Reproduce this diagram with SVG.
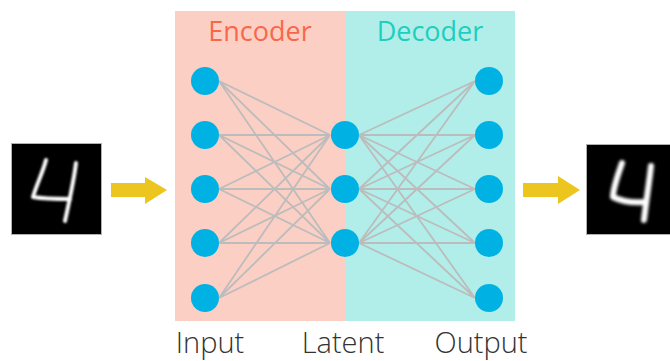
<svg xmlns="http://www.w3.org/2000/svg" width="670" height="361" viewBox="0 0 670 361">
  <defs>
    <style>
      .edge { stroke: #bcbcbc; stroke-width: 1.8; fill: none; }
      .neuron { fill: #00b1e4; }
      .title { font-family: "Open Sans", "Noto Sans", sans-serif; font-size: 27px; text-anchor: middle; }
      .layer { font-family: "Open Sans", "Noto Sans", sans-serif; font-size: 29px; font-weight: 300; fill: #333; text-anchor: middle; }
      .digit { stroke: #fff; fill: none; stroke-linecap: round; stroke-linejoin: round; }
      .frame { fill: #000; stroke: #b0b0b0; stroke-width: 1; }
      .flow { fill: #ecc51e; }
    </style>
    <filter id="soft" x="-20%" y="-20%" width="140%" height="140%">
      <feGaussianBlur stdDeviation="0.9"/>
    </filter>
    <filter id="softer" x="-20%" y="-20%" width="140%" height="140%">
      <feGaussianBlur stdDeviation="1.8"/>
    </filter>
  </defs>

  <rect width="670" height="361" fill="#fff"/>

  <!-- background panels -->
  <g id="encoder-panel">
    <rect x="175" y="11" width="170" height="310" fill="#fccfc5"/>
    <text class="title" x="260" y="41" fill="#f9674b">Encoder</text>
  </g>
  <g id="decoder-panel">
    <rect x="345" y="11" width="170" height="310" fill="#b1eee9"/>
    <text class="title" x="430" y="41" fill="#1dcfbe">Decoder</text>
  </g>

  <!-- connections -->
  <g id="connectors">
    <!-- input -> latent -->
    <path class="edge" d="M219 81L330 135M219 81L330 189M219 81L330 243
      M219 135L330 135M219 135L330 189M219 135L330 243
      M219 189L330 135M219 189L330 189M219 189L330 243
      M219 243L330 135M219 243L330 189M219 243L330 243
      M219 298L330 135M219 298L330 189M219 298L330 243"/>
    <!-- latent -> output -->
    <path class="edge" d="M359 135L475 81M359 135L475 135M359 135L475 189M359 135L475 243M359 135L475 298
      M359 189L475 81M359 189L475 135M359 189L475 189M359 189L475 243M359 189L475 298
      M359 243L475 81M359 243L475 135M359 243L475 189M359 243L475 243M359 243L475 298"/>
  </g>

  <!-- input layer -->
  <g id="input-layer">
    <circle class="neuron" cx="205" cy="81" r="14"/>
    <circle class="neuron" cx="205" cy="135" r="14"/>
    <circle class="neuron" cx="205" cy="189" r="14"/>
    <circle class="neuron" cx="205" cy="243" r="14"/>
    <circle class="neuron" cx="205" cy="298" r="14"/>
  </g>

  <!-- latent layer -->
  <g id="latent-layer">
    <circle class="neuron" cx="345" cy="135" r="14"/>
    <circle class="neuron" cx="345" cy="189" r="14"/>
    <circle class="neuron" cx="345" cy="243" r="14"/>
  </g>

  <!-- output layer -->
  <g id="output-layer">
    <circle class="neuron" cx="489" cy="81" r="14"/>
    <circle class="neuron" cx="489" cy="135" r="14"/>
    <circle class="neuron" cx="489" cy="189" r="14"/>
    <circle class="neuron" cx="489" cy="243" r="14"/>
    <circle class="neuron" cx="489" cy="298" r="14"/>
  </g>

  <!-- layer labels -->
  <g id="labels">
    <text class="layer" x="210" y="353">Input</text>
    <text class="layer" x="343" y="353">Latent</text>
    <text class="layer" x="481" y="353">Output</text>
  </g>

  <!-- input sample -->
  <g id="input-image">
    <rect class="frame" x="11.5" y="143.5" width="90" height="91"/>
    <g filter="url(#soft)">
      <path class="digit" stroke-width="4" d="M46 160C43 172 36 186 33 197C45 199 58 199 70 199"/>
      <path class="digit" stroke-width="4" d="M76 163C74 180 70 198 65 221"/>
    </g>
  </g>

  <!-- output reconstruction -->
  <g id="output-image">
    <rect class="frame" x="586.5" y="144.5" width="84" height="90"/>
    <g filter="url(#softer)">
      <path class="digit" stroke-width="6" d="M622 163C618 175 613 188 613 197C623 202 634 203 645 202"/>
      <path class="digit" stroke-width="6" d="M651 166C649 184 646 202 644 220"/>
    </g>
  </g>

  <!-- flow arrows -->
  <g id="arrow-in">
    <polygon class="flow" points="111,183 145,183 145,177 167,190 145,204 145,197 111,197"/>
  </g>
  <g id="arrow-out">
    <polygon class="flow" points="523,183 558,183 558,176 580,190 558,204 558,197 523,197"/>
  </g>
</svg>
